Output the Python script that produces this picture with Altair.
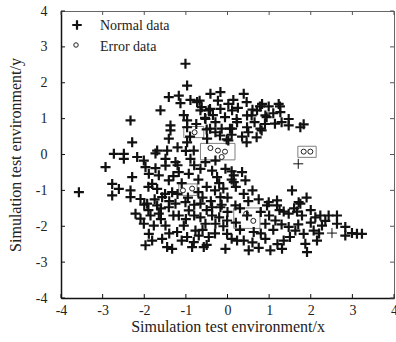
import altair as alt
import pandas as pd

# ---------------- data ----------------
upper_pts = [
    (-1.01, 2.53), (-0.97, 1.92), (-1.41, 1.60), (-1.17, 1.64), (-1.13, 1.43), (-0.89, 1.52),
    (-0.73, 1.46), (-0.41, 1.69), (-0.65, 1.23), (-0.45, 1.23), (-1.61, 1.23), (-2.33, 0.95),
    (-1.37, 0.81), (-0.97, 0.95), (-0.97, 0.76), (-0.53, 0.99), (-0.29, 0.90), (-0.67, 1.50),
    (-0.62, 1.32), (-0.42, 1.27), (-0.23, 1.50), (0.02, 1.41), (0.14, 1.52), (0.46, 1.46),
    (0.78, 1.34), (0.99, 1.34), (1.26, 1.34), (-0.54, 1.02), (-0.06, 1.04), (0.22, 0.99),
    (0.58, 1.09), (0.94, 1.04), (1.14, 0.86), (1.47, 0.99), (1.47, 0.81), (1.83, 0.84),
    (-0.42, 0.72), (-0.14, 0.72), (0.06, 0.72), (0.50, 0.62), (0.82, 0.67), (0.46, 0.34),
    (0.70, 0.48), (0.02, 0.39), (-0.18, 0.53), (-0.17, 1.74), (0.39, 1.69), (0.83, 1.41),
    (1.23, 1.41), (0.71, 1.23), (0.91, 1.09), (1.27, 1.18), (0.23, 0.90), (0.47, 1.09),
    (-0.17, 1.27), (0.11, 1.23), (0.47, 0.76), (0.79, 0.72), (0.11, 0.72), (1.75, 0.76),
    (-1.37, 0.67), (-1.41, 0.44), (-2.29, 0.34), (-0.97, 0.34), (-0.49, 0.44), (-0.29, 0.62),
    (-1.05, 1.10), (-0.35, 1.10), (0.25, 1.30), (0.60, 1.25), (0.35, 0.50), (0.10, 0.55),
    (0.65, 0.90), (0.90, 0.85), (1.10, 1.15), (1.30, 0.90), (-0.90, 0.50), (-0.75, 0.85),
    (-0.50, 0.70), (-1.20, 0.20), (-1.00, 0.10), (-0.81, 0.11), (-0.02, 0.42),
]

middle_pts = [
    (-2.73, 0.02), (-2.49, 0.02), (-2.49, -0.12), (-2.17, -0.07), (-2.01, -0.17), (-1.69, 0.11),
    (-1.45, 0.11), (-1.49, -0.12), (-1.73, 0.03), (-2.93, -0.35), (-1.97, -0.35), (-1.73, -0.38),
    (-1.49, -0.31), (-1.25, -0.21), (-0.89, -0.12), (-1.17, -0.49), (-0.93, -0.54), (-0.65, -0.40),
    (-0.53, -0.21), (-0.37, -0.45), (-2.29, -0.63), (-1.89, -0.54), (-1.65, -0.58), (-1.81, -0.82),
    (-1.41, -0.72), (-2.77, -0.82), (-2.61, -0.96), (-2.33, -1.00), (-3.57, -1.05), (-2.77, -1.14),
    (-2.33, -1.19), (-2.09, -1.24), (-1.69, -0.96), (-1.57, -1.19), (-1.33, -1.05), (-0.29, -0.17),
    (-0.05, -0.40), (-0.25, -0.63), (0.15, -0.58), (0.35, -0.49), (0.43, -0.72), (0.15, -0.77),
    (0.39, -1.10), (0.10, -0.47), (-1.30, -0.60), (-1.10, -0.80), (-0.70, -0.70), (-0.50, -0.90),
    (-0.30, -1.00), (-0.20, -0.80), (-1.20, -0.30), (-0.80, -0.30), (-1.90, -0.90), (0.20, -0.90),
    (0.60, -1.00), (-0.10, -0.95), (0.10, -0.70),
]

lower_pts = [
    (-2.21, -1.65), (-2.09, -1.79), (-2.01, -1.93), (-1.85, -1.70), (-1.65, -1.65), (-1.77, -1.98),
    (-1.89, -2.21), (-1.49, -1.98), (-1.81, -2.40), (-1.57, -2.35), (-1.97, -2.53), (-1.45, -2.58),
    (-1.33, -2.63), (-1.21, -2.16), (-1.05, -1.98), (-1.17, -1.70), (-0.97, -2.30), (-0.81, -2.44),
    (-0.85, -2.58), (-0.57, -2.58), (-0.69, -2.26), (-0.45, -2.30), (-0.77, -2.12), (-0.53, -1.93),
    (-0.65, -1.75), (-0.37, -1.70), (-0.93, -1.56), (-1.41, -1.47), (-1.69, -1.42), (-1.93, -1.37),
    (-1.25, -1.37), (-1.01, -1.33), (-0.65, -1.37), (-0.37, -1.47), (-0.29, -1.93), (-0.17, -1.47),
    (-0.01, -1.84), (-0.01, -2.21), (-0.05, -2.63), (0.23, -2.40), (0.39, -2.40), (0.51, -2.67),
    (0.19, -1.42), (0.47, -1.70), (0.63, -2.16), (0.91, -1.93), (0.95, -1.42), (1.19, -1.42),
    (0.91, -2.35), (1.03, -2.67), (1.15, -1.84), (1.35, -2.40), (1.31, -2.63), (1.47, -1.65),
    (1.47, -2.02), (1.63, -2.12), (1.75, -1.37), (1.79, -1.70), (1.83, -2.21), (1.87, -2.49),
    (1.91, -2.72), (2.07, -2.12), (2.15, -2.40), (2.11, -1.75), (2.27, -1.98), (2.23, -1.70),
    (2.43, -1.70), (2.63, -1.70), (2.63, -1.93), (2.83, -2.02), (2.83, -2.26), (3.11, -2.21),
    (3.23, -2.21), (1.55, -1.00), (-0.17, -1.19), (0.99, -1.33), (1.19, -1.28), (1.71, -1.33),
    (-0.14, -1.40), (1.67, -1.59), (1.35, -1.59), (2.99, -2.19), (-0.50, -2.52),
    (-1.40, -1.30), (-1.20, -1.10), (-0.80, -1.40), (-1.60, -1.50), (-1.30, -1.70), (-1.00, -1.80),
    (-0.80, -1.70), (-0.50, -1.55), (-0.20, -1.75), (0.00, -1.60), (0.20, -1.90), (0.30, -2.10),
    (0.10, -2.35), (-0.30, -2.20), (-0.10, -2.00), (-0.60, -2.10), (-1.10, -2.40), (-1.40, -2.20),
    (-1.60, -1.80), (-1.90, -1.55), (-2.00, -1.40), (-1.75, -1.25), (-1.50, -1.10), (-0.95, -1.20),
    (-0.70, -1.05), (-0.60, -1.20), (-0.40, -1.30), (0.75, -1.25), (0.50, -1.30), (0.30, -1.50),
    (0.80, -1.60), (1.00, -1.70), (1.25, -1.55), (1.30, -1.95), (1.10, -2.10), (0.80, -2.20),
    (0.60, -2.45), (0.75, -2.60), (1.20, -2.50), (1.50, -2.30), (1.70, -1.95), (2.00, -1.90),
    (2.00, -1.55), (1.60, -1.50), (1.90, -1.20), (2.35, -1.85), (2.20, -2.20), (0.00, -1.20),
]

thin_pts = [(1.70, -0.26), (2.51, -2.19)]

error_pts = [
    (-0.79, 0.62), (-0.41, 0.18), (-0.23, 0.11), (-0.06, 0.08), (-0.14, -0.07),
    (1.83, 0.08), (1.99, 0.08), (-1.07, -1.00), (-0.85, -0.95), (0.45, -1.65), (0.62, -1.85),
]

box_x1 = [-1.05, -0.65, 1.69, -1.17, 0.15]
box_x2 = [-0.57, 0.18, 2.13, -0.73, 0.78]
box_y1 = [0.47, -0.15, -0.08, -1.14, -2.06]
box_y2 = [0.78, 0.31, 0.23, -0.82, -1.49]

tick_values = [-4, -3, -2, -1, 0, 1, 2, 3, 4]
legend_labels = ["Normal data", "Error data"]
x_title = "Simulation test environment/x"
y_title = "Simulation test environment/y"

# ---------------- layout / style ----------------
W, H = 333, 287
FONT = "Liberation Serif"
INK = "#111111"
CROSS = "M-1,0L1,0M0,-1L0,1"

def pts_df(pts):
    return pd.DataFrame({"x": [p[0] for p in pts], "y": [p[1] for p in pts]})

normal_df = pts_df(upper_pts + middle_pts + lower_pts)
thin_df = pts_df(thin_pts)
error_df = pts_df(error_pts)
box_df = pd.DataFrame({"x1": box_x1, "x2": box_x2, "y1": box_y1, "y2": box_y2})
tick_df = pd.DataFrame({"t": tick_values})

sc = alt.Scale(domain=[-4, 4], nice=False, zero=False)

x_axis = alt.Axis(
    values=tick_values, title=x_title, grid=False, tickSize=0, labelPadding=5,
    labelExpr="'' + datum.value", labelFont=FONT, labelFontSize=14, labelColor="#222",
    domainColor=INK, domainWidth=1.5, titleFont=FONT, titleFontSize=16,
    titleFontWeight="normal", titleColor="#222", titleX=W / 2, titleY=33,
    titleAlign="center", titleBaseline="alphabetic", labelFlush=False,
)
y_axis = alt.Axis(
    values=tick_values, title=y_title, grid=False, tickSize=0, labelPadding=14,
    labelExpr="'' + datum.value", labelFont=FONT, labelFontSize=14, labelColor="#222",
    domainColor=INK, domainWidth=1.5, titleFont=FONT, titleFontSize=16,
    titleFontWeight="normal", titleColor="#222", titleX=-41, titleY=H / 2,
    titleAngle=270, titleAlign="center", titleBaseline="alphabetic", labelFlush=False,
)

def X(f):
    return alt.X(f, type="quantitative", scale=sc, axis=x_axis)

def Y(f):
    return alt.Y(f, type="quantitative", scale=sc, axis=y_axis)

boxes = alt.Chart(box_df).mark_rect(fillOpacity=0, stroke="#808080", strokeWidth=1).encode(
    x=X("x1"), x2="x2", y=Y("y1"), y2="y2"
)

normal = alt.Chart(normal_df).mark_point(
    shape=CROSS, size=100, strokeWidth=2.2, color=INK, filled=False, opacity=1
).encode(x=X("x"), y=Y("y"))

thin = alt.Chart(thin_df).mark_point(
    shape=CROSS, size=100, strokeWidth=1, color=INK, filled=False, opacity=1
).encode(x=X("x"), y=Y("y"))

errors = alt.Chart(error_df).mark_point(
    shape="circle", size=25, strokeWidth=1, color="#222", filled=False, opacity=1
).encode(x=X("x"), y=Y("y"))

tick_b = alt.Chart(tick_df).mark_rule(color=INK, strokeWidth=1).encode(
    x=X("t"), y=alt.value(H), y2=alt.value(H - 4))
tick_t = alt.Chart(tick_df).mark_rule(color="#555", strokeWidth=1).encode(
    x=X("t"), y=alt.value(0), y2=alt.value(4))
tick_l = alt.Chart(tick_df).mark_rule(color=INK, strokeWidth=1).encode(
    y=Y("t"), x=alt.value(0), x2=alt.value(4))
tick_r = alt.Chart(tick_df).mark_rule(color="#555", strokeWidth=1).encode(
    y=Y("t"), x=alt.value(W), x2=alt.value(W - 4))

leg1 = pd.DataFrame({"label": [legend_labels[0]]})
leg2 = pd.DataFrame({"label": [legend_labels[1]]})
leg_cross = alt.Chart(leg1).mark_point(
    shape=CROSS, size=90, strokeWidth=2.2, color=INK, filled=False, opacity=1
).encode(x=alt.value(16), y=alt.value(14))
leg_circle = alt.Chart(leg2).mark_point(
    shape="circle", size=20, strokeWidth=1, color="#222", filled=False, opacity=1
).encode(x=alt.value(15), y=alt.value(34))
leg_text1 = alt.Chart(leg1).mark_text(
    align="left", baseline="alphabetic", font=FONT, fontSize=14, color="#222"
).encode(x=alt.value(39), y=alt.value(18.5), text="label:N")
leg_text2 = alt.Chart(leg2).mark_text(
    align="left", baseline="alphabetic", font=FONT, fontSize=14, color="#222"
).encode(x=alt.value(39), y=alt.value(39.5), text="label:N")

chart = alt.layer(
    boxes, normal, thin, errors, tick_b, tick_t, tick_l, tick_r,
    leg_cross, leg_circle, leg_text1, leg_text2,
).properties(
    width=W, height=H,
    autosize=alt.AutoSizeParams(type="none"),
    padding={"left": 61, "top": 11, "right": 2, "bottom": 44},
    background="white",
).configure_view(stroke="#666666", strokeWidth=1)

chart.save("out.html", embed_options={"renderer": "svg", "actions": False})
